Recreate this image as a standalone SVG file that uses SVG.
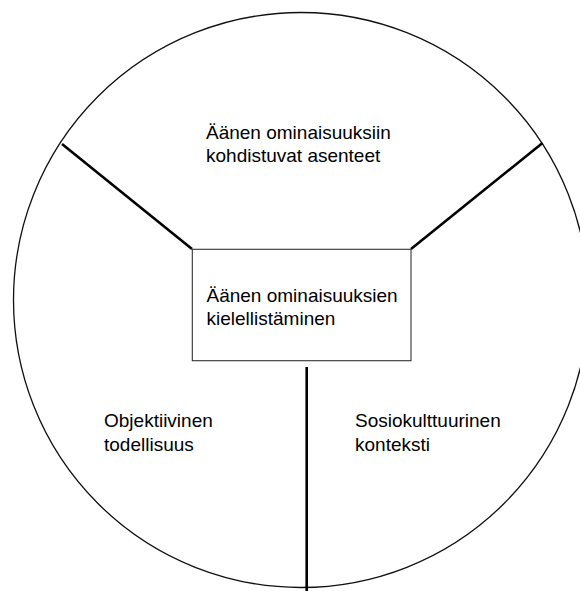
<svg xmlns="http://www.w3.org/2000/svg" width="580" height="591" viewBox="0 0 580 591">
<style>
.t{font-family:"Liberation Sans",Arial,Helvetica,sans-serif;font-size:19px;fill:#000}
.spoke{stroke:#000;stroke-width:2.6;fill:none}
</style>
<rect width="580" height="591" fill="#fff"/>
<g id="circle">
<circle cx="301" cy="300" r="287.5" fill="none" stroke="#111" stroke-width="1.3"/>
</g>
<g id="connectors">
<line class="spoke" x1="62" y1="144" x2="192" y2="249"/>
<line class="spoke" x1="542.5" y1="143" x2="411" y2="249"/>
<line class="spoke" x1="306.7" y1="367" x2="306.7" y2="591"/>
</g>
<g id="top-sector">
<text class="t" x="206" y="139">Äänen ominaisuuksiin</text>
<text class="t" x="206" y="161.5">kohdistuvat asenteet</text>
</g>
<g id="center-box">
<rect x="192.3" y="249.3" width="218.7" height="111.4" fill="#fff" stroke="#333" stroke-width="1.1"/>
<text class="t" x="206.5" y="302">Äänen ominaisuuksien</text>
<text class="t" x="206.5" y="325">kielellistäminen</text>
</g>
<g id="left-sector">
<text class="t" x="104" y="427">Objektiivinen</text>
<text class="t" x="104" y="450.5">todellisuus</text>
</g>
<g id="right-sector">
<text class="t" x="355" y="427">Sosiokulttuurinen</text>
<text class="t" x="355" y="450.5">konteksti</text>
</g>
</svg>
